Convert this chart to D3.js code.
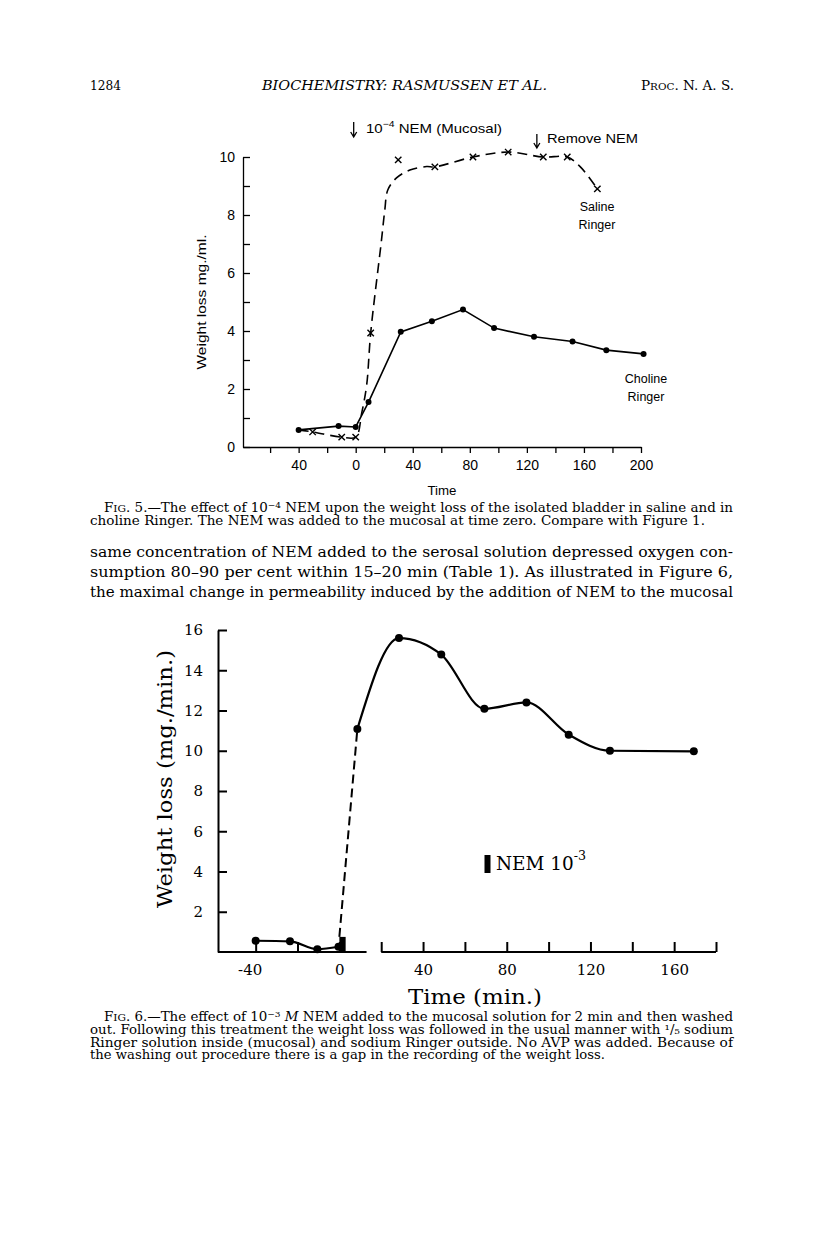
<!DOCTYPE html>
<html><head><meta charset="utf-8">
<script src="https://cdn.jsdelivr.net/npm/d3@7"></script>
<style>body{margin:0;background:#fff}svg{display:block}</style>
</head><body>
<svg id="page" width="816" height="1253"></svg>
<script>
// ---------------- data ----------------
// Fig. 5 : weight loss (mg./ml.) vs time
const fig5XTicks = [-60,-40,-20,0,20,40,60,80,100,120,140,160,180,200];
const fig5XLabelValues = [-40,0,40,80,120,160,200];
const fig5XLabelTexts = ["40","0","40","80","120","160","200"];
const fig5YTicks = [0,1,2,3,4,5,6,7,8,9,10];
const fig5YLabelValues = [0,2,4,6,8,10];
const fig5YLabelTexts = ["0","2","4","6","8","10"];
// choline Ringer (dots, solid)
const cholineTime = [-40,-12,0,9,31.6,53.4,75.2,97,125,152,175.7,201.8];
const cholineLoss = [0.59,0.72,0.69,1.55,3.97,4.34,4.74,4.1,3.8,3.64,3.34,3.21];
// saline Ringer (crosses)
const salineTime = [-30.2,-9.8,0,10.5,29.8,55.5,82.2,106.9,131.5,148.3,169.4];
const salineLoss = [0.52,0.34,0.34,3.93,9.9,9.66,10.0,10.17,10.0,10.0,8.9];
// hand-drawn dashed curve of the saline series
const salineCurveTime = [-40,-30.2,-9.8,0,4.2,7.7,10.5,18.1,20.4,22.5,28.6,38,49.7,55.5,82.2,106.9,131.5,148.3,157.5,169.4];
const salineCurveLoss = [0.59,0.52,0.34,0.34,1.17,2.14,3.93,7.14,8.17,8.86,9.28,9.55,9.67,9.66,10.0,10.17,10.0,10.0,9.66,8.9];
const nemAddedTime = 0;
const nemRemovedTime = 127;

// Fig. 6 : weight loss (mg./min.) vs time (min.)
const fig6XTicks = [-40,-20,0,20,40,60,80,100,120,140,160,180];
const fig6XLabelValues = [-40,0,40,80,120,160];
const fig6XLabelTexts = ["-40","0","40","80","120","160"];
const fig6YTicks = [2,4,6,8,10,12,14,16];
const fig6YLabelTexts = ["2","4","6","8","10","12","14","16"];
const beforeTime = [-40,-23.6,-10.5,-0.4];
const beforeLoss = [0.56,0.53,0.14,0.26];
const afterTime = [8.6,28.5,48.7,69.3,89.4,109.6,129.3,169.4];
const afterLoss = [11.08,15.6,14.78,12.09,12.4,10.8,10.0,9.97];
const nemPulse = [0, 3];          // NEM 10^-3 applied, min
const nemPulseHeight = 0.75;
const axisGap = [13, 20];         // gap in recording (x-axis break), min

// ---------------- drawing ----------------
const SERIF = "'DejaVu Serif', 'Liberation Serif', serif";
const SANS = "'Liberation Sans', 'DejaVu Sans', sans-serif";
const svg = d3.select("#page");
svg.append("rect").attr("width",816).attr("height",1253).attr("fill","#fff");

function txt(parent, x, y, parts, o = {}) {
  const t = parent.append("text").attr("x", x).attr("y", y)
    .attr("font-family", o.family || SERIF).attr("font-size", o.size || 12)
    .attr("text-anchor", o.anchor || "start").attr("fill", "#000");
  if (o.italic) t.attr("font-style", "italic");
  if (o.rotate) t.attr("transform", `rotate(${o.rotate},${x},${y})`);
  if (o.len) t.attr("textLength", o.len).attr("lengthAdjust", "spacingAndGlyphs");
  if (typeof parts === "string") parts = [parts];
  parts.forEach(p => {
    if (typeof p === "string") { t.append("tspan").text(p); return; }
    const s = t.append("tspan").text(p.t);
    if (p.size) s.attr("font-size", p.size);
    if (p.dy) s.attr("dy", p.dy);
    if (p.italic) s.attr("font-style", "italic");
  });
  return t;
}

// ----- running head -----
txt(svg, 90, 90, "1284", {size: 13, len: 31});
txt(svg, 262, 90, "BIOCHEMISTRY: RASMUSSEN ET AL.", {size: 13, italic: true, len: 285});
txt(svg, 641, 90, ["P", {t: "ROC", size: 10}, {t: ". N. A. S.", size: 13}], {size: 13, len: 93});

// ----- Fig. 5 -----
const x5 = d3.scaleLinear().domain([-79, 200]).range([243, 641]);
const y5 = d3.scaleLinear().domain([0, 10]).range([447, 157]);
const g5 = svg.append("g");

const gx5 = g5.append("g").attr("transform", `translate(0,${y5(0)})`)
  .call(d3.axisBottom(x5).tickValues(fig5XTicks).tickSizeInner(6).tickSizeOuter(0).tickPadding(7)
    .tickFormat(d => { const i = fig5XLabelValues.indexOf(d); return i < 0 ? "" : fig5XLabelTexts[i]; }));
const gy5 = g5.append("g").attr("transform", `translate(${x5.range()[0]},0)`)
  .call(d3.axisLeft(y5).tickValues(fig5YTicks).tickSizeInner(-7).tickSizeOuter(0).tickPadding(8)
    .tickFormat(d => { const i = fig5YLabelValues.indexOf(d); return i < 0 ? "" : fig5YLabelTexts[i]; }));
[gx5, gy5].forEach(g => {
  g.selectAll("text").attr("font-family", SANS).attr("font-size", 14).attr("fill", "#000");
  g.selectAll("line,path").attr("stroke", "#000").attr("stroke-width", 1.3);
});

// saline dashed curve
g5.append("path")
  .attr("d", d3.line().x((d,i) => x5(salineCurveTime[i])).y(d => y5(d)).curve(d3.curveCatmullRom)(salineCurveLoss))
  .attr("fill", "none").attr("stroke", "#000").attr("stroke-width", 1.6).attr("stroke-dasharray", "10,6");
// choline solid line
g5.append("path")
  .attr("d", d3.line().x((d,i) => x5(cholineTime[i])).y(d => y5(d))(cholineLoss))
  .attr("fill", "none").attr("stroke", "#000").attr("stroke-width", 1.6);
g5.selectAll("circle.ch").data(cholineLoss).join("circle").attr("class","ch")
  .attr("cx", (d,i) => x5(cholineTime[i])).attr("cy", d => y5(d)).attr("r", 3).attr("fill", "#000");
// crosses
g5.selectAll("path.sx").data(salineLoss).join("path").attr("class","sx")
  .attr("d", (d,i) => { const cx = x5(salineTime[i]), cy = y5(d), s = 3.2;
     return `M${cx-s},${cy-s}L${cx+s},${cy+s}M${cx-s},${cy+s}L${cx+s},${cy-s}`; })
  .attr("stroke", "#000").attr("stroke-width", 1.4).attr("fill", "none");

// arrows
function downArrow(g, x, y1, y2) {
  g.append("path").attr("d", `M${x},${y1}V${y2}M${x-3},${y2-5}L${x},${y2}L${x+3},${y2-5}`)
    .attr("stroke", "#000").attr("stroke-width", 1.3).attr("fill", "none");
}
downArrow(g5, x5(nemAddedTime) - 2, 122, 137);
txt(g5, 366, 133, ["10", {t: "−4", size: 9, dy: -6}, {t: " NEM (Mucosal)", dy: 6}], {family: SANS, size: 13, len: 136});
downArrow(g5, x5(nemRemovedTime), 134, 148);
txt(g5, 547, 143, "Remove NEM", {family: SANS, size: 13, len: 91});
txt(g5, 597, 211, "Saline", {family: SANS, size: 12.5, anchor: "middle"});
txt(g5, 597, 229, "Ringer", {family: SANS, size: 12.5, anchor: "middle"});
txt(g5, 646, 383, "Choline", {family: SANS, size: 12.5, anchor: "middle"});
txt(g5, 646, 401, "Ringer", {family: SANS, size: 12.5, anchor: "middle"});
txt(g5, 442, 495, "Time", {family: SANS, size: 13, anchor: "middle", len: 29});
txt(g5, 206, 302, "Weight  loss  mg./ml.", {family: SANS, size: 13, anchor: "middle", rotate: -90, len: 135});

// caption Fig. 5
txt(svg, 104, 512, ["F", {t: "IG", size: 9.5}, ". 5.—The effect of 10", {t: "−4", size: 8, dy: -4},
  {t: " NEM upon the weight loss of the isolated bladder in saline and in", dy: 4}], {size: 12, len: 629});
txt(svg, 90, 525, "choline Ringer.  The NEM was added to the mucosal at time zero.  Compare with Figure 1.", {size: 12, len: 615});

// body text
txt(svg, 90, 557, "same concentration of NEM added to the serosal solution depressed oxygen con-", {size: 15, len: 643});
txt(svg, 90, 577, "sumption 80–90 per cent within 15–20 min (Table 1).  As illustrated in Figure 6,", {size: 15, len: 643});
txt(svg, 90, 597, "the maximal change in permeability induced by the addition of NEM to the mucosal", {size: 15, len: 643});

// ----- Fig. 6 -----
const x6 = d3.scaleLinear().domain([-58, 180]).range([218, 716]);
const y6 = d3.scaleLinear().domain([0, 16]).range([952, 630]);
const g6 = svg.append("g");

const gx6 = g6.append("g").attr("transform", `translate(0,${y6(0)})`)
  .call(d3.axisBottom(x6).tickValues(fig6XTicks).tickSizeInner(-10).tickSizeOuter(0).tickPadding(12)
    .tickFormat(d => { const i = fig6XLabelValues.indexOf(d); return i < 0 ? "" : fig6XLabelTexts[i]; }));
gx6.select(".domain").remove();
const gy6 = g6.append("g").attr("transform", `translate(${x6.range()[0]},0)`)
  .call(d3.axisLeft(y6).tickValues(fig6YTicks).tickSizeInner(-9).tickSizeOuter(0).tickPadding(15)
    .tickFormat((d,i) => fig6YLabelTexts[i]));
[gx6, gy6].forEach(g => {
  g.selectAll("text").attr("font-family", SERIF).attr("font-size", 15).attr("fill", "#000");
  g.selectAll("line,path").attr("stroke", "#000").attr("stroke-width", 2);
});
// negative label: minus sign hangs to the left of the tick
gx6.selectAll(".tick text").filter(d => d < 0).attr("dx", "-0.4em");
// x-axis with break
[[x6.domain()[0], axisGap[0]], [axisGap[1], x6.domain()[1]]].forEach(seg => {
  g6.append("line").attr("x1", x6(seg[0])).attr("x2", x6(seg[1]))
    .attr("y1", y6(0)).attr("y2", y6(0)).attr("stroke", "#000").attr("stroke-width", 2);
});

const line6 = d3.line().x(d => x6(d[0])).y(d => y6(d[1])).curve(d3.curveMonotoneX);
g6.append("path").attr("d", line6(beforeTime.map((t,i) => [t, beforeLoss[i]])))
  .attr("fill", "none").attr("stroke", "#000").attr("stroke-width", 2.2);
g6.append("path").attr("d", line6(afterTime.map((t,i) => [t, afterLoss[i]])))
  .attr("fill", "none").attr("stroke", "#000").attr("stroke-width", 2.2);
// dashed gap
g6.append("line").attr("x1", x6(nemPulse[0])).attr("y1", y6(nemPulseHeight))
  .attr("x2", x6(afterTime[0])).attr("y2", y6(afterLoss[0]))
  .attr("stroke", "#000").attr("stroke-width", 2).attr("stroke-dasharray", "9,5");
// NEM pulse bar
g6.append("rect").attr("x", x6(nemPulse[0])).attr("width", x6(nemPulse[1]) - x6(nemPulse[0]))
  .attr("y", y6(nemPulseHeight)).attr("height", y6(0) - y6(nemPulseHeight)).attr("fill", "#000");
// dots
const allT = beforeTime.concat(afterTime), allV = beforeLoss.concat(afterLoss);
g6.selectAll("circle.p6").data(allV).join("circle").attr("class","p6")
  .attr("cx", (d,i) => x6(allT[i])).attr("cy", d => y6(d)).attr("r", 4).attr("fill", "#000");

// legend
g6.append("rect").attr("x", 484.5).attr("y", 855).attr("width", 6).attr("height", 18).attr("fill", "#000");
txt(g6, 496, 870, ["NEM 10", {t: "-3", size: 13, dy: -10}], {size: 19, len: 90});
// axis titles
txt(g6, 475, 1004, "Time (min.)", {size: 20, anchor: "middle", len: 134});
txt(g6, 172, 779, "Weight loss (mg./min.)", {size: 21, anchor: "middle", rotate: -90, len: 258});

// caption Fig. 6
txt(svg, 104, 1021, ["F", {t: "IG", size: 9.5}, ". 6.—The effect of 10", {t: "−3", size: 8, dy: -4},
  {t: " ", dy: 4}, {t: "M", italic: true}, " NEM added to the mucosal solution for 2 min and then washed"], {size: 12, len: 629});
txt(svg, 90, 1034, "out.  Following this treatment the weight loss was followed in the usual manner with ¹/₅ sodium", {size: 12, len: 643});
txt(svg, 90, 1047, "Ringer solution inside (mucosal) and sodium Ringer outside.  No AVP was added.  Because of", {size: 12, len: 643});
txt(svg, 90, 1059, "the washing out procedure there is a gap in the recording of the weight loss.", {size: 12, len: 515});
</script>
</body></html>
